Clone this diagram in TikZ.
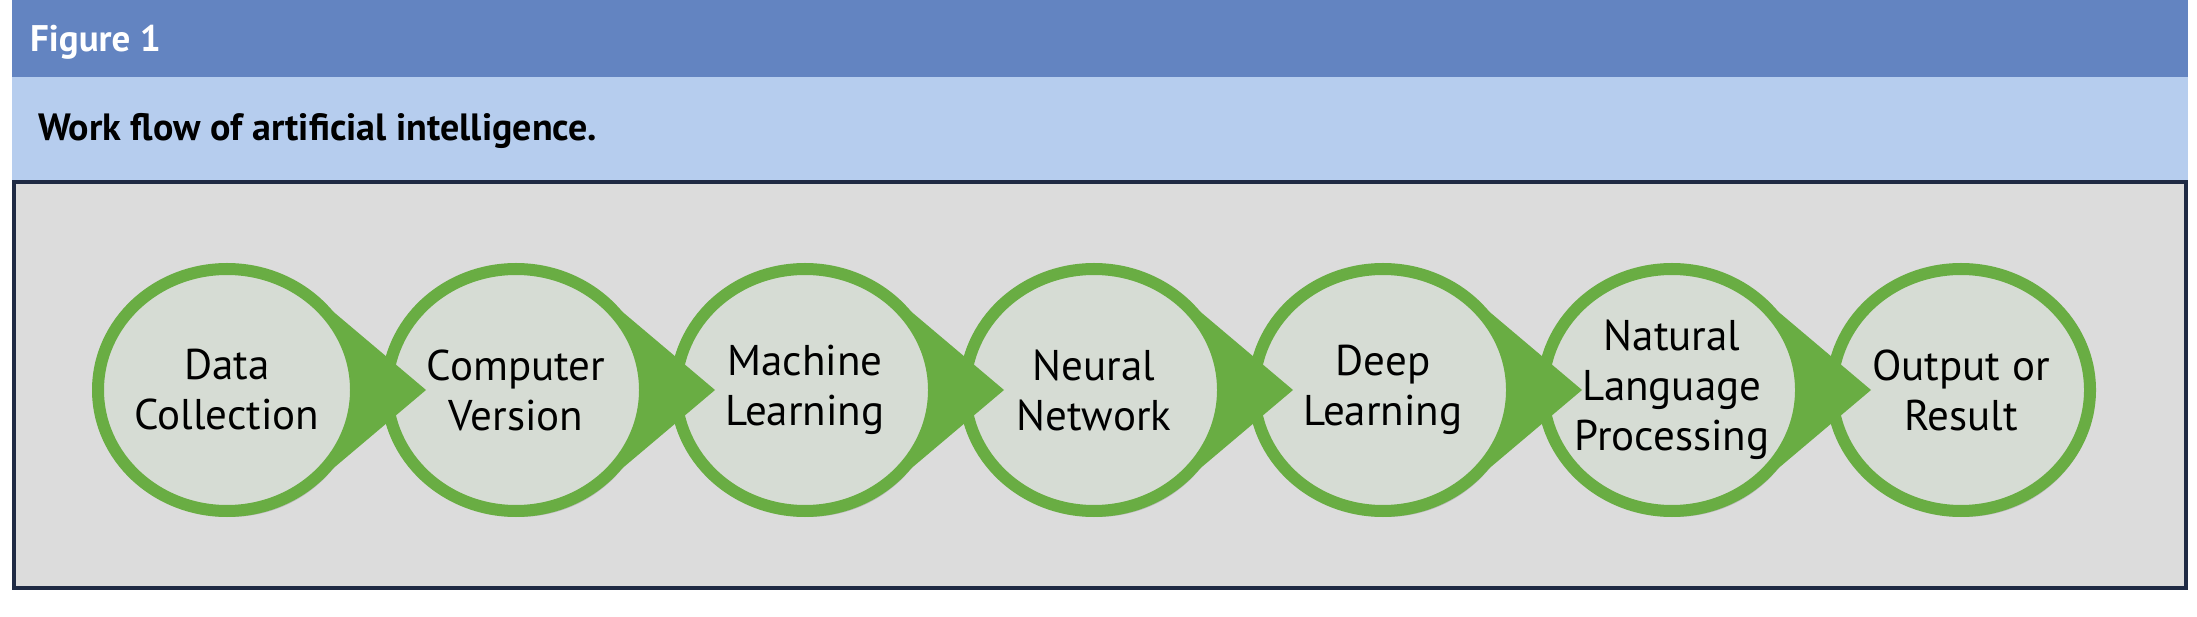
\documentclass[tikz,border=0pt]{standalone}
\usepackage{fontspec}
\setmainfont{PT Sans}
\usepackage{xcolor}
\usetikzlibrary{positioning,calc,shapes.geometric,shadows}

\definecolor{headblue}{HTML}{6384C1}
\definecolor{bandblue}{HTML}{B6CDEE}
\definecolor{panelgray}{HTML}{DCDCDC}
\definecolor{panelnavy}{HTML}{1F2A44}
\definecolor{ringgreen}{HTML}{69AD43}
\definecolor{discfill}{HTML}{D6DCD4}

\begin{document}
\begin{tikzpicture}[
    x=1pt, y=1pt,
    on grid, node distance=289pt,
    stage/.style={ellipse, draw=ringgreen, fill=discfill, line width=12pt, minimum width=258pt, minimum height=242pt, inner sep=-30pt, align=center, font=\fontsize{43}{50}\selectfont,
        drop shadow={shadow xshift=3pt, shadow yshift=-6pt, opacity=0.15, fill=black}},
    tip/.style={fill=ringgreen}
]
\useasboundingbox (0,0) rectangle (2197,616);
\fill[white] (0,0) rectangle (2197,616);

% header bands
\fill[headblue] (12,539) rectangle (2188,616);
\fill[bandblue] (12,436) rectangle (2188,539);
\node[anchor=base west, inner sep=0pt, text=white, font=\fontsize{37}{44}\selectfont\bfseries] (fig) at (30,564) {Figure 1};
\node[anchor=base west, inner sep=0pt, font=\fontsize{38}{45}\selectfont\bfseries] (caption) at (38,475) {Work flow of artificial intelligence.};

% panel
\filldraw[fill=panelgray, draw=panelnavy, line width=4pt] (14,28) rectangle (2186,434);

% stages
\node[stage] (data) at (227,226) {Data\\Collection};
\node[stage, right=of data] (vision) {Computer\\Version};
\node[stage, right=of vision] (ml) {Machine\\Learning};
\node[stage, right=of ml] (nn) {Neural\\Network};
\node[stage, right=of nn] (dl) {Deep\\Learning};
\node[stage, right=of dl] (nlp) {Natural\\Language\\Processing};
\node[stage, right=of nlp] (out) {Output or\\Result};

% pointed tips
\fill[tip] ($(data)+(48:133 and 125)$) -- ($(vision.west)+(45,0)$) -- ($(data)+(-48:133 and 125)$) arc[start angle=-48, end angle=48, x radius=133, y radius=125] -- cycle;
\fill[tip] ($(vision)+(48:133 and 125)$) -- ($(ml.west)+(45,0)$) -- ($(vision)+(-48:133 and 125)$) arc[start angle=-48, end angle=48, x radius=133, y radius=125] -- cycle;
\fill[tip] ($(ml)+(48:133 and 125)$) -- ($(nn.west)+(45,0)$) -- ($(ml)+(-48:133 and 125)$) arc[start angle=-48, end angle=48, x radius=133, y radius=125] -- cycle;
\fill[tip] ($(nn)+(48:133 and 125)$) -- ($(dl.west)+(45,0)$) -- ($(nn)+(-48:133 and 125)$) arc[start angle=-48, end angle=48, x radius=133, y radius=125] -- cycle;
\fill[tip] ($(dl)+(48:133 and 125)$) -- ($(nlp.west)+(45,0)$) -- ($(dl)+(-48:133 and 125)$) arc[start angle=-48, end angle=48, x radius=133, y radius=125] -- cycle;
\fill[tip] ($(nlp)+(48:133 and 125)$) -- ($(out.west)+(45,0)$) -- ($(nlp)+(-48:133 and 125)$) arc[start angle=-48, end angle=48, x radius=133, y radius=125] -- cycle;
\end{tikzpicture}
\end{document}
